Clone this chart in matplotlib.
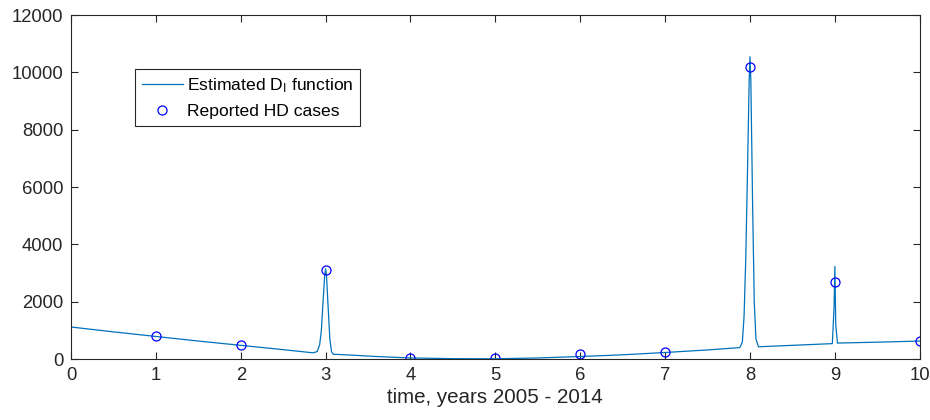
import matplotlib
matplotlib.use("Agg")
import matplotlib.pyplot as plt

plt.rcParams["font.family"] = ["Liberation Sans", "DejaVu Sans"]
plt.rcParams["mathtext.fontset"] = "custom"
plt.rcParams["mathtext.rm"] = "Liberation Sans"
plt.rcParams["mathtext.it"] = "Liberation Sans"

# reported HD cases, one per year (0 = 2005)
years = [1, 2, 3, 4, 5, 6, 7, 8, 9, 10]
reported = [790, 490, 3100, 30, 30, 170, 240, 10200, 2700, 620]

# estimated D_I function
est_t = [0.0, 0.5, 1.0, 1.5, 2.0, 2.5, 2.85, 2.90, 2.93, 2.95, 2.97, 2.99, 3.00,
         3.01, 3.03, 3.05, 3.07, 3.09, 3.3, 3.6, 4.0, 4.5, 5.0, 5.5, 6.0, 6.5,
         7.0, 7.5, 7.88, 7.91, 7.93, 7.95, 7.97, 7.99, 8.00, 8.01, 8.03, 8.05,
         8.07, 8.10, 8.5, 8.97, 8.99, 9.00, 9.01, 9.03, 9.5, 10.0]
est_d = [1120, 950, 790, 630, 480, 330, 220, 260, 500, 1000, 2000, 2950, 3150,
         2950, 1800, 700, 260, 170, 140, 90, 40, 15, 10, 40, 90, 150,
         230, 320, 400, 600, 1500, 3500, 6500, 9700, 10550, 9700, 5500, 2000,
         700, 430, 480, 540, 1800, 3230, 1200, 560, 590, 630]

fig = plt.figure(figsize=(9.3, 4.2), dpi=100)
ax = fig.add_axes([0.0763, 0.145, 0.9127, 0.819])

ax.plot(est_t, est_d, color="#0072BD", linewidth=0.9,
        label="Estimated D$_\\mathrm{I}$ function")
ax.plot(years, reported, linestyle="none", marker="o", markersize=6.5,
        markerfacecolor="none", markeredgecolor="#0000FF", markeredgewidth=0.9,
        label="Reported HD cases")

ax.set_xlim(0, 10)
ax.set_ylim(0, 12000)
ax.set_xticks(range(0, 11))
ax.set_yticks(range(0, 12001, 2000))
ax.tick_params(direction="in", top=True, right=True, length=5, width=0.8,
               labelsize=13.3, colors="#262626", pad=5.5)
for sp in ax.spines.values():
    sp.set_color("#262626")
    sp.set_linewidth(0.8)
ax.set_xlabel("time, years 2005 - 2014", fontsize=14.8, color="#262626", labelpad=3)

leg = ax.legend(loc="upper left", bbox_to_anchor=(0.075, 0.843), borderaxespad=0,
                fancybox=False, edgecolor="#262626", framealpha=1, fontsize=12.6,
                handlelength=2.35, handletextpad=0.25, labelspacing=0.5,
                borderpad=0.4)
leg.get_frame().set_linewidth(0.8)

fig.savefig("out.png", dpi=100)
